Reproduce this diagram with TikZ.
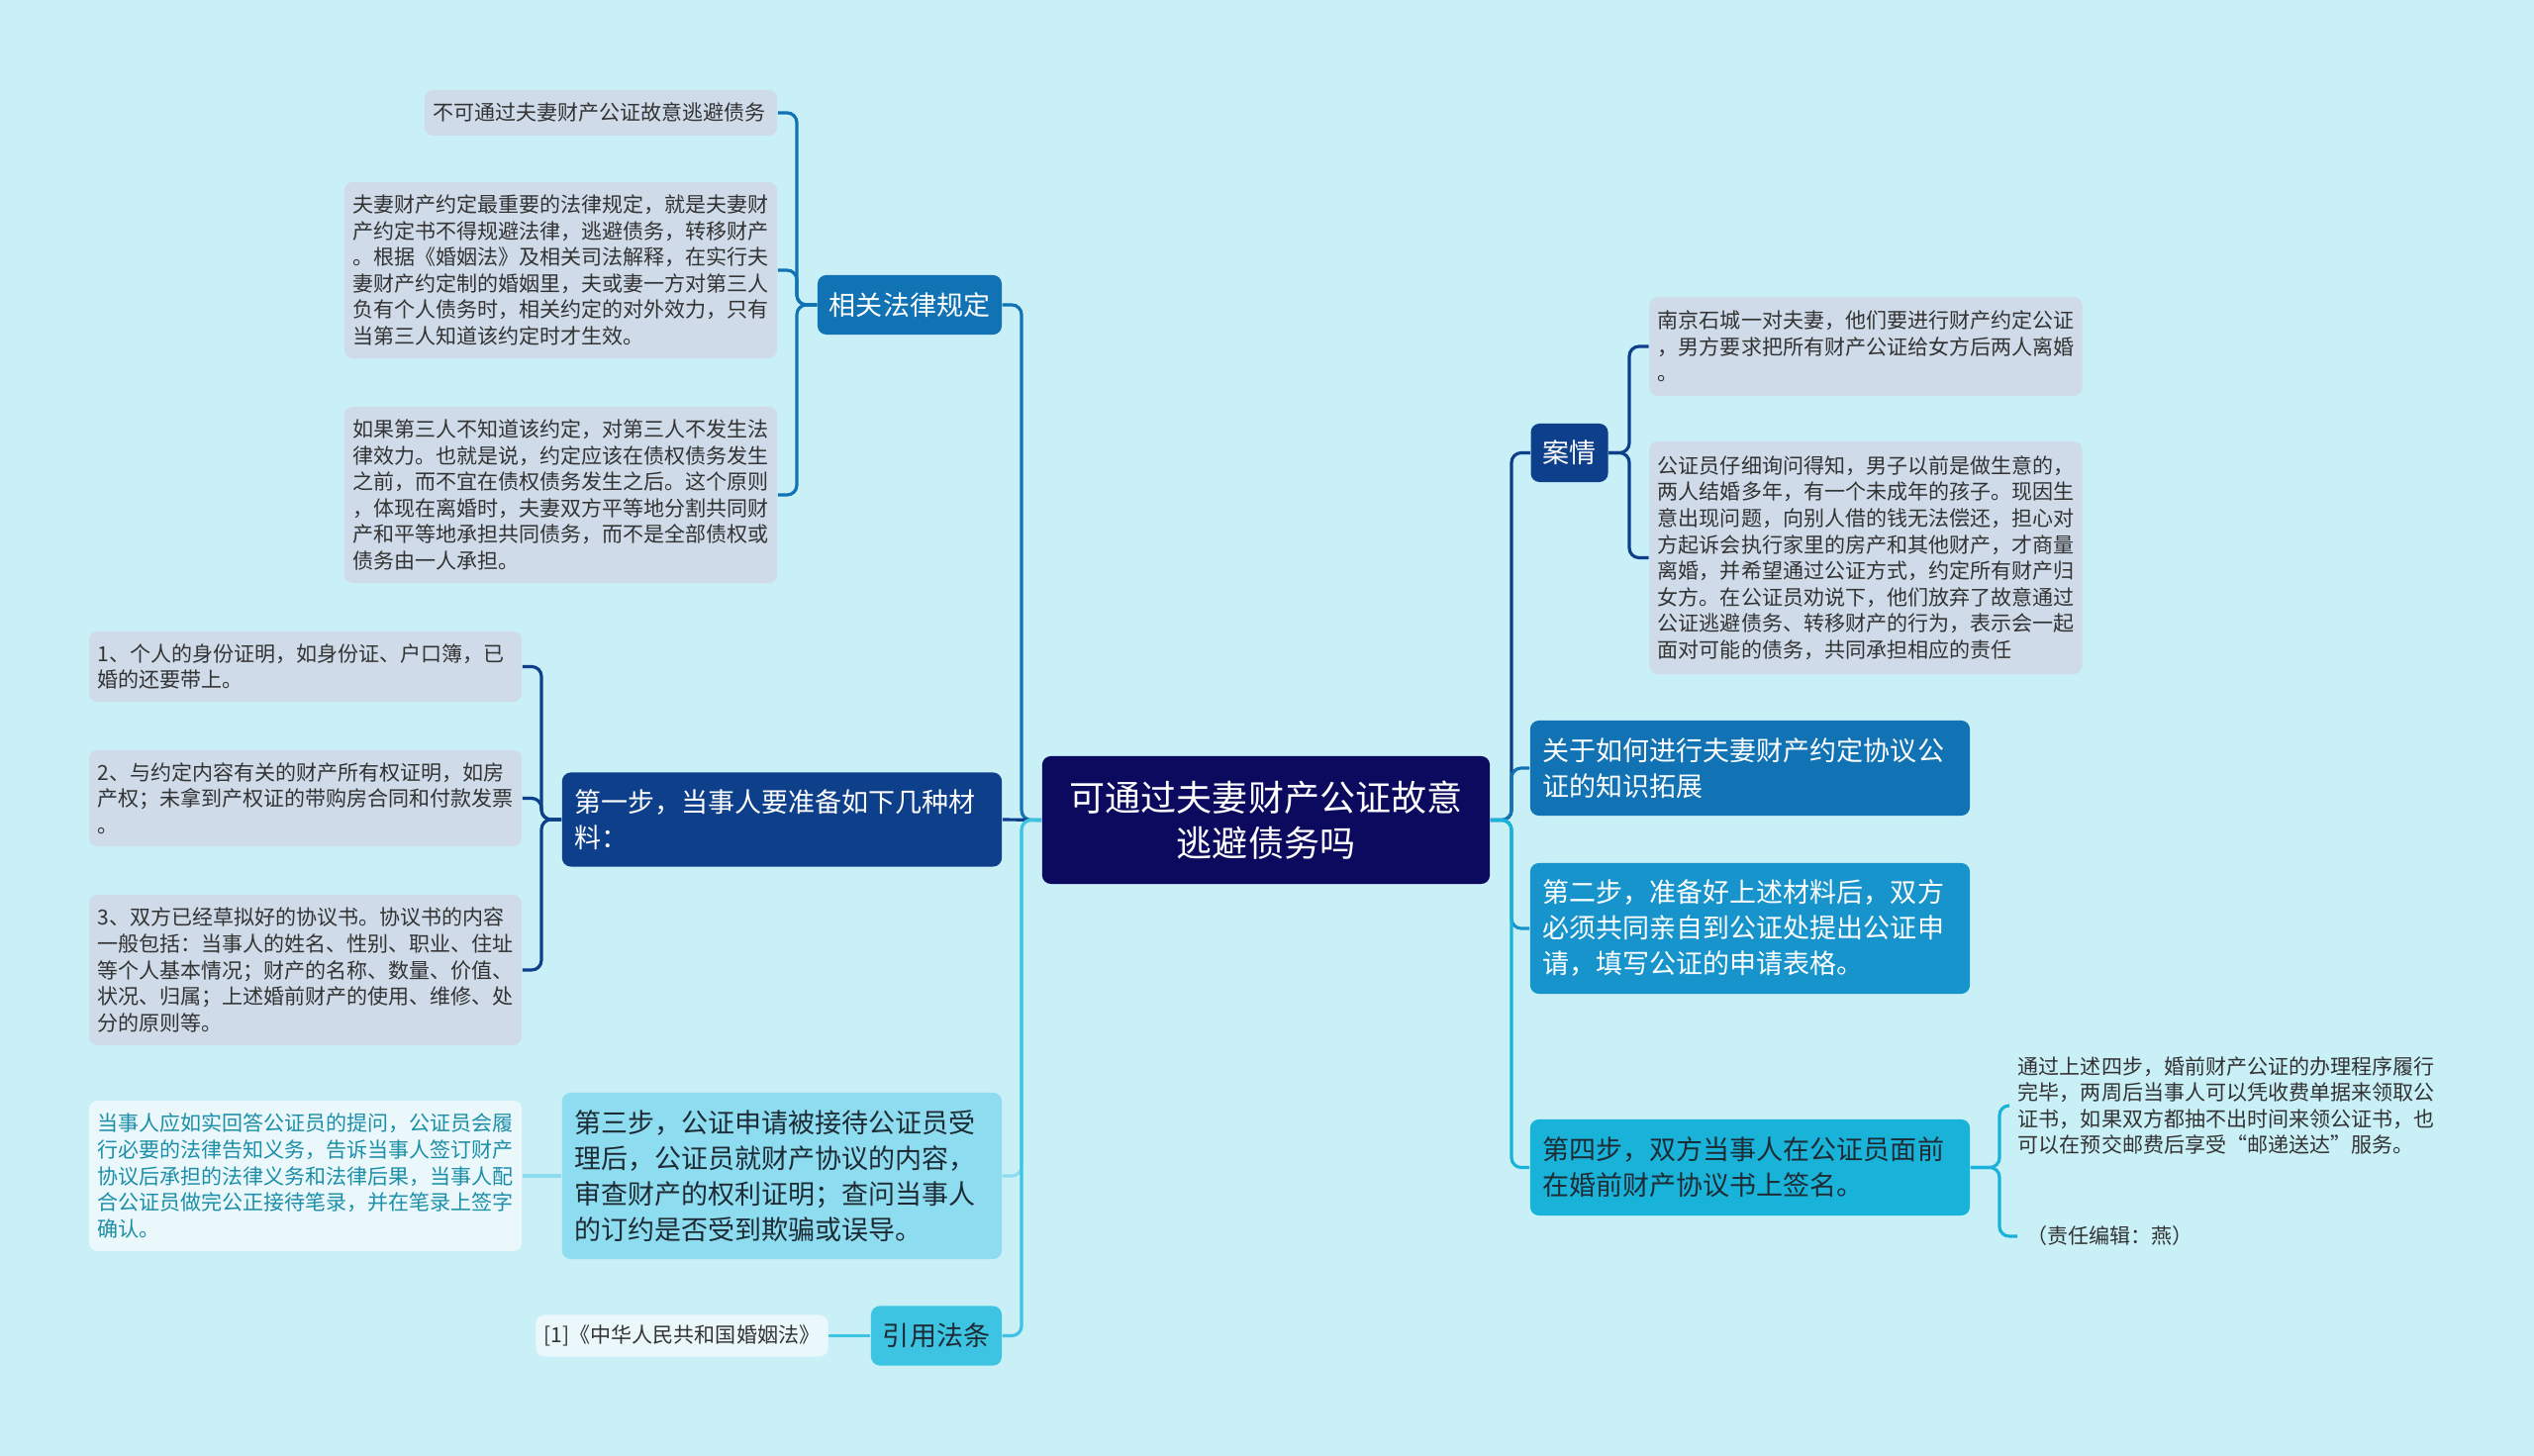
\documentclass[tikz,border=0pt]{standalone}
\usepackage{fontspec}
\setmainfont{Noto Sans CJK SC}
\definecolor{bgcol}{HTML}{C9EFF7}
\definecolor{rootcol}{HTML}{0B0A5E}
\definecolor{navycol}{HTML}{0D3F8A}
\definecolor{bluecol}{HTML}{1172B4}
\definecolor{midcol}{HTML}{1794CB}
\definecolor{skycol}{HTML}{19B3DA}
\definecolor{palecol}{HTML}{8EDCEF}
\definecolor{citecol}{HTML}{3DC4E2}
\definecolor{leafcol}{HTML}{CFDBE9}
\definecolor{leaftxt}{HTML}{333333}
\definecolor{notecol}{HTML}{EAF8FC}
\definecolor{notetxt}{HTML}{1C8EA8}
\definecolor{darktxt}{HTML}{1D2B35}
\newcommand{\rootfont}{\fontsize{10.24pt}{13.1pt}\selectfont}
\newcommand{\branchfont}{\fontsize{7.68pt}{10.24pt}\selectfont}
\newcommand{\leaffont}{\fontsize{5.98pt}{7.55pt}\selectfont}
\tikzset{root/.style={fill=rootcol,text=white,rounded corners=2.5pt,font=\rootfont,align=center,minimum width=4.52cm,minimum height=1.29cm,inner sep=0pt}}
\tikzset{branch/.style={rounded corners=2.5pt,font=\branchfont,align=left,text width=4.18cm,inner xsep=0.13cm,inner ysep=0pt}}
\tikzset{tag/.style={rounded corners=2.5pt,font=\branchfont,inner xsep=0.12cm,inner ysep=0pt,minimum height=0.6cm}}
\tikzset{leaf/.style={fill=leafcol,text=leaftxt,rounded corners=2.5pt,font=\leaffont,align=left,text width=4.2cm,inner xsep=0.085cm,inner ysep=0pt}}
\tikzset{plain/.style={text=leaftxt,font=\leaffont,inner xsep=0.085cm,inner ysep=0pt}}
\tikzset{link/.style={line width=0.9pt,rounded corners=2.8pt}}

\begin{document}
\begin{tikzpicture}[x=0.01cm,y=-0.01cm]
    \fill [bgcol] (0,0) rectangle (2560,1471);
    \useasboundingbox (0,0) rectangle (2560,1471);
    \coordinate (lt) at (1032,0);
    \coordinate (rt) at (1527,0);
    \coordinate (lawx) at (805,0);
    \coordinate (matx) at (547,0);
    \coordinate (casex) at (1646,0);
    \coordinate (endx) at (2020,0);
    \node [root] (root) at (1279,828.5) {可通过夫妻财产公证故意\\逃避债务吗};
    \node [tag,fill=bluecol,text=white] (law) at (919,308) {相关法律规定};
    \node [leaf,text width=3.39cm,minimum height=0.46cm] (law1) at (607,114) {不可通过夫妻财产公证故意逃避债务};
    \node [leaf,minimum height=1.78cm] (law2) at (566.5,273) {夫妻财产约定最重要的法律规定，就是夫妻财\\产约定书不得规避法律，逃避债务，转移财产\\。根据《婚姻法》及相关司法解释，在实行夫\\妻财产约定制的婚姻里，夫或妻一方对第三人\\负有个人债务时，相关约定的对外效力，只有\\当第三人知道该约定时才生效。};
    \node [leaf,minimum height=1.78cm] (law3) at (566.5,500) {如果第三人不知道该约定，对第三人不发生法\\律效力。也就是说，约定应该在债权债务发生\\之前，而不宜在债权债务发生之后。这个原则\\，体现在离婚时，夫妻双方平等地分割共同财\\产和平等地承担共同债务，而不是全部债权或\\债务由一人承担。};
    \node [branch,fill=navycol,text=white,minimum height=0.95cm] (step1) at (790,828) {第一步，当事人要准备如下几种材\\料：};
    \node [leaf,minimum height=0.71cm] (mat1) at (308.5,673.5) {1、个人的身份证明，如身份证、户口簿，已\\婚的还要带上。};
    \node [leaf,minimum height=0.97cm] (mat2) at (308.5,806.5) {2、与约定内容有关的财产所有权证明，如房\\产权；未拿到产权证的带购房合同和付款发票\\。};
    \node [leaf,minimum height=1.52cm] (mat3) at (308.5,980) {3、双方已经草拟好的协议书。协议书的内容\\一般包括：当事人的姓名、性别、职业、住址\\等个人基本情况；财产的名称、数量、价值、\\状况、归属；上述婚前财产的使用、维修、处\\分的原则等。};
    \node [branch,fill=palecol,text=darktxt,minimum height=1.68cm] (step3) at (790,1188) {第三步，公证申请被接待公证员受\\理后，公证员就财产协议的内容，\\审查财产的权利证明；查问当事人\\的订约是否受到欺骗或误导。};
    \node [leaf,fill=notecol,text=notetxt,minimum height=1.52cm] (note3) at (308.5,1188) {当事人应如实回答公证员的提问，公证员会履\\行必要的法律告知义务，告诉当事人签订财产\\协议后承担的法律义务和法律后果，当事人配\\合公证员做完公正接待笔录，并在笔录上签字\\确认。};
    \node [tag,fill=citecol,text=darktxt] (cite) at (946,1349.5) {引用法条};
    \node [plain,fill=notecol,rounded corners=2.5pt,minimum width=2.94cm,minimum height=0.42cm] (cite1) at (689,1349.5) {[1]《中华人民共和国婚姻法》};
    \node [tag,fill=navycol,text=white,minimum height=0.59cm] (case) at (1585.5,457.5) {案情};
    \node [leaf,minimum height=1.0cm] (case1) at (1885,350) {南京石城一对夫妻，他们要进行财产约定公证\\，男方要求把所有财产公证给女方后两人离婚\\。};
    \node [leaf,minimum height=2.35cm] (case2) at (1885,563.5) {公证员仔细询问得知，男子以前是做生意的，\\两人结婚多年，有一个未成年的孩子。现因生\\意出现问题，向别人借的钱无法偿还，担心对\\方起诉会执行家里的房产和其他财产，才商量\\离婚，并希望通过公证方式，约定所有财产归\\女方。在公证员劝说下，他们放弃了故意通过\\公证逃避债务、转移财产的行为，表示会一起\\面对可能的债务，共同承担相应的责任};
    \node [branch,fill=bluecol,text=white,minimum height=0.96cm] (know) at (1768,776) {关于如何进行夫妻财产约定协议公\\证的知识拓展};
    \node [branch,fill=midcol,text=white,minimum height=1.32cm] (step2) at (1768,938) {第二步，准备好上述材料后，双方\\必须共同亲自到公证处提出公证申\\请，填写公证的申请表格。};
    \node [branch,fill=skycol,text=darktxt,minimum height=0.97cm] (step4) at (1768,1179.5) {第四步，双方当事人在公证员面前\\在婚前财产协议书上签名。};
    \node [leaf,fill=none] (step4a) at (2249,1117) {通过上述四步，婚前财产公证的办理程序履行\\完毕，两周后当事人可以凭收费单据来领取公\\证书，如果双方都抽不出时间来领公证书，也\\可以在预交邮费后享受“邮递送达”服务。};
    \node [plain,anchor=west] (step4b) at (2038,1249) {（责任编辑：燕）};
    \draw [link,bluecol] (root.west) -| (law.east -| lt) -- (law.east);
    \draw [link,navycol] (root.west) -- (step1.east);
    \draw [link,palecol] (root.west) -| (step3.east -| lt) -- (step3.east);
    \draw [link,citecol] (root.west) -| (cite.east -| lt) -- (cite.east);
    \draw [link,navycol] (root.east) -| (case.west -| rt) -- (case.west);
    \draw [link,bluecol] (root.east) -| (know.west -| rt) -- (know.west);
    \draw [link,midcol] (root.east) -| (step2.west -| rt) -- (step2.west);
    \draw [link,skycol] (root.east) -| (step4.west -| rt) -- (step4.west);
    \draw [link,bluecol] (law.west) -| (law1.east -| lawx) -- (law1.east);
    \draw [link,bluecol] (law.west) -| (law2.east -| lawx) -- (law2.east);
    \draw [link,bluecol] (law.west) -| (law3.east -| lawx) -- (law3.east);
    \draw [link,navycol] (step1.west) -| (mat1.east -| matx) -- (mat1.east);
    \draw [link,navycol] (step1.west) -| (mat2.east -| matx) -- (mat2.east);
    \draw [link,navycol] (step1.west) -| (mat3.east -| matx) -- (mat3.east);
    \draw [link,palecol] (step3.west) -- (note3.east);
    \draw [link,citecol] (cite.west) -- (cite1.east);
    \draw [link,navycol] (case.east) -| (case1.west -| casex) -- (case1.west);
    \draw [link,navycol] (case.east) -| (case2.west -| casex) -- (case2.west);
    \draw [link,skycol] (step4.east) -| (step4a.west -| endx) -- (step4a.west);
    \draw [link,skycol] (step4.east) -| (step4b.west -| endx) -- (step4b.west);
\end{tikzpicture}
\end{document}
